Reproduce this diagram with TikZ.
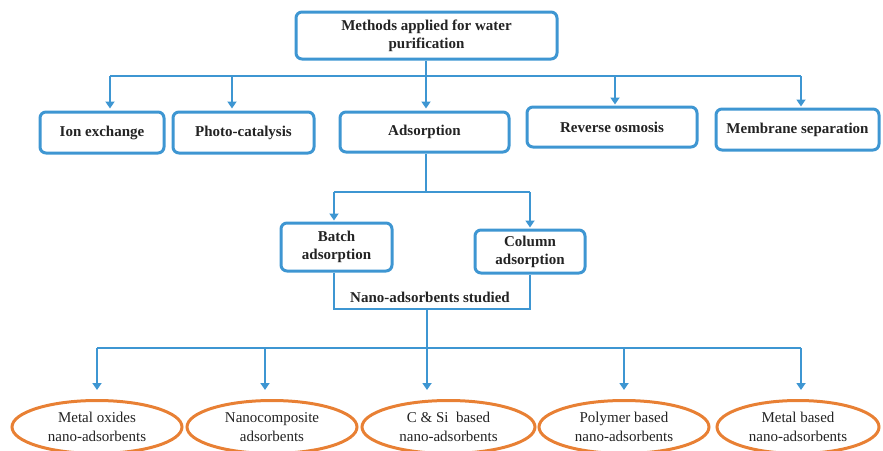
\documentclass[tikz,border=0pt]{standalone}
\usepackage{fontspec}
\setmainfont{Liberation Serif}
\usetikzlibrary{arrows.meta,shapes.geometric}
\definecolor{lblue}{RGB}{62,150,210}
\definecolor{lorange}{RGB}{232,128,52}
\definecolor{txt}{RGB}{35,35,35}
\tikzset{
  box/.style={draw=lblue,line width=3pt,rounded corners=6pt,fill=white,align=center,text=txt,font=\fontsize{15}{18}\selectfont\bfseries,inner sep=0pt},
  ell/.style={draw=lorange,line width=3pt,ellipse,align=center,text=txt,font=\fontsize{15}{19}\selectfont,inner sep=0pt,minimum height=53pt},
  ln/.style={draw=lblue,line width=2.8pt},
  arr/.style={ln,-{Triangle[width=9pt,length=7pt]}},
  lbl/.style={text=txt,font=\fontsize{15}{18}\selectfont\bfseries,inner sep=0pt}
}
\begin{document}
\begin{tikzpicture}[x=1pt,y=-1pt]
\useasboundingbox (0,0) rectangle (883,450);
\clip (0,0) rectangle (883,450);
% boxes
\node[box,minimum width=261pt,minimum height=47pt] (top) at (426.5,35.5) {Methods applied for water\\purification};
\node[box,minimum width=124pt,minimum height=41pt] (ion) at (102,132.5) {Ion exchange};
\node[box,minimum width=141pt,minimum height=41pt] (pho) at (243.5,132.5) {Photo-catalysis};
\node[box,minimum width=169pt,minimum height=40pt] (ads) at (424.5,132) {Adsorption};
\node[box,minimum width=170pt,minimum height=40pt] (rev) at (612,127) {Reverse osmosis};
\node[box,minimum width=163pt,minimum height=41pt] (mem) at (797.5,129.5) {Membrane separation};
\node[box,minimum width=111pt,minimum height=48pt] (bat) at (336.5,247) {Batch\\adsorption};
\node[box,minimum width=110pt,minimum height=43pt] (col) at (530,251.5) {Column\\adsorption};
\node[lbl] (nano) at (430,297) {Nano-adsorbents studied};
% ellipses
\node[ell,minimum width=170pt] (e1) at (97,427) {Metal oxides\\nano-adsorbents};
\node[ell,minimum width=170pt] (e2) at (272,427) {Nanocomposite\\adsorbents};
\node[ell,minimum width=173pt] (e3) at (448.5,427) {C \& Si~ based\\nano-adsorbents};
\node[ell,minimum width=170pt] (e4) at (624,427) {Polymer based\\nano-adsorbents};
\node[ell,minimum width=162pt] (e5) at (798,427) {Metal based\\nano-adsorbents};
% first level connectors
\coordinate (h0) at (426,76);
\coordinate (h1) at (110,76);
\coordinate (h2) at (232,76);
\coordinate (h4) at (615,76);
\coordinate (h5) at (801,76);
\draw[ln] (top.south -| h0) -- (h0);
\draw[ln] (h1) -- (h5);
\draw[arr,shorten >=2pt] (h1) -- (h1 |- ion.north);
\draw[arr,shorten >=2pt] (h2) -- (h2 |- pho.north);
\draw[arr,shorten >=2pt] (h0) -- (h0 |- ads.north);
\draw[arr,shorten >=1pt] (h4) -- (h4 |- rev.north);
\draw[arr,shorten >=1pt] (h5) -- (h5 |- mem.north);
% adsorption branch
\coordinate (a0) at (426,192);
\coordinate (a1) at (334,192);
\coordinate (a2) at (530,192);
\draw[ln] (ads.south -| a0) -- (a0);
\draw[ln] (a1) -- (a2);
\draw[arr,shorten >=1pt] (a1) -- (a1 |- bat.north);
\draw[arr,shorten >=1pt] (a2) -- (a2 |- col.north);
% join
\coordinate (n1) at (334,309);
\coordinate (n2) at (530,309);
\coordinate (n0) at (427,309);
\draw[ln] (bat.south -| n1) -- (n1) -- (n2) -- (col.south -| n2);
% bottom
\coordinate (b0) at (427,348);
\coordinate (b1) at (97,348);
\coordinate (b2) at (265,348);
\coordinate (b4) at (624,348);
\coordinate (b5) at (801,348);
\draw[ln] (n0) -- (b0);
\draw[ln] (b1) -- (b5);
\draw[arr,shorten >=9pt] (b1) -- (b1 |- e1.north);
\draw[arr,shorten >=9pt] (b2) -- (b2 |- e2.north);
\draw[arr,shorten >=9pt] (b0) -- (b0 |- e3.north);
\draw[arr,shorten >=9pt] (b4) -- (b4 |- e4.north);
\draw[arr,shorten >=9pt] (b5) -- (b5 |- e5.north);
\end{tikzpicture}
\end{document}
